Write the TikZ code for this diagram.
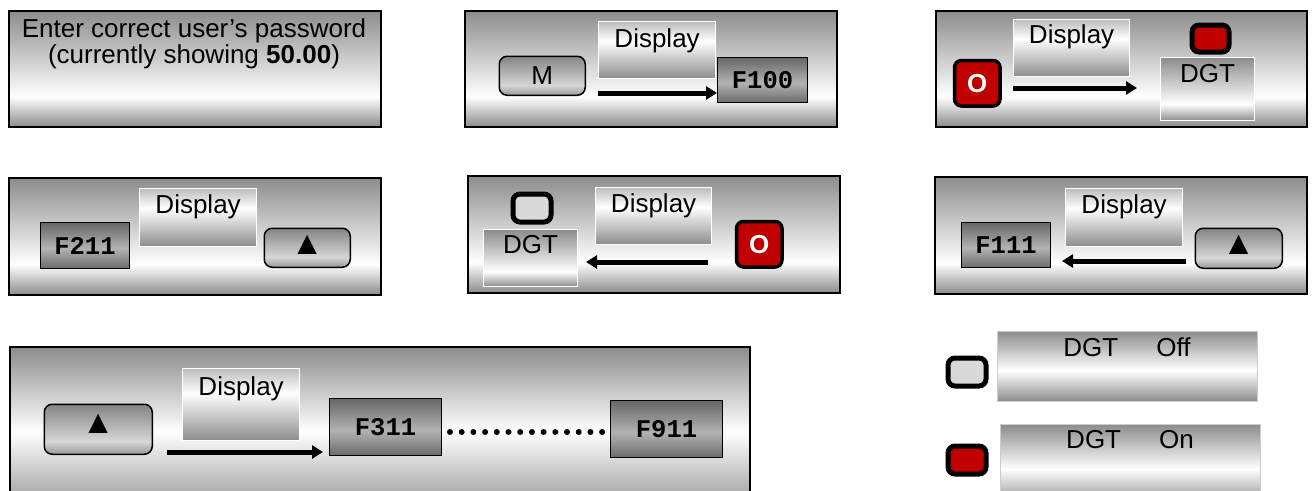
\documentclass[tikz,border=0pt]{standalone}
\usepackage{fontspec}
\setmainfont{Liberation Sans}
\newfontfamily\monof{Liberation Mono}
\usetikzlibrary{arrows.meta}
\definecolor{pg}{gray}{0.55}
\definecolor{dispTop}{gray}{0.74}
\definecolor{dispBot}{gray}{0.55}
\definecolor{btnTop}{gray}{0.52}
\definecolor{btnMid}{gray}{0.84}
\definecolor{btnBot}{gray}{0.6}
\definecolor{fTop}{gray}{0.40}
\definecolor{fMid}{gray}{0.70}
\definecolor{fBot}{gray}{0.42}
\definecolor{dred}{RGB}{192,0,0}
\definecolor{keygray}{RGB}{217,217,217}
\pgfdeclareverticalshading{panelshade}{100bp}{color(0bp)=(pg); color(25bp)=(pg); color(38bp)=(white); color(75bp)=(pg); color(100bp)=(pg)}
\pgfdeclareverticalshading{gshade}{100bp}{color(0bp)=(pg); color(25bp)=(pg); color(50bp)=(white); color(75bp)=(pg); color(100bp)=(pg)}
\pgfdeclareverticalshading{legshade}{100bp}{color(0bp)=(pg); color(25bp)=(pg); color(47bp)=(white); color(75bp)=(pg); color(100bp)=(pg)}
\pgfdeclareverticalshading{dispshade}{100bp}{color(0bp)=(dispBot); color(25bp)=(dispBot); color(58bp)=(white); color(75bp)=(dispTop); color(100bp)=(dispTop)}
\pgfdeclareverticalshading{btnshade}{100bp}{color(0bp)=(btnBot); color(25bp)=(btnBot); color(38bp)=(btnMid); color(75bp)=(btnTop); color(100bp)=(btnTop)}
\pgfdeclareverticalshading{fshade}{100bp}{color(0bp)=(fBot); color(25bp)=(fBot); color(47bp)=(fMid); color(75bp)=(fTop); color(100bp)=(fTop)}
\begin{document}
\begin{tikzpicture}[x=1pt,y=-1pt,
  every node/.style={font=\fontsize{26}{25.5}\selectfont, inner sep=0pt},
  panel/.style={draw=black, line width=1.5pt, shading=panelshade, anchor=north west},
  disp/.style={draw=white, line width=1.2pt, shading=dispshade, anchor=north west},
  dgtbox/.style={draw=white, line width=1.2pt, shading=panelshade, anchor=north west},
  legbar/.style={draw=gray!40, line width=0.5pt, shading=legshade, anchor=north west},
  fbox/.style={draw=black, line width=1pt, shading=fshade, anchor=north west, font=\monof\bfseries\fontsize{25.5}{25.5}\selectfont},
  btn/.style={draw=black, line width=1.5pt, rounded corners=8pt, shading=btnshade, anchor=north west},
  obtn/.style={draw=black, line width=3.5pt, rounded corners=7pt, fill=dred, text=white, anchor=north west, font=\bfseries\fontsize{26}{26}\selectfont},
  keybox/.style={draw=black, line width=5pt, rounded corners=7pt, anchor=north west},
  tri/.style={font=\fontsize{33}{33}\selectfont},
  arr/.style={line width=5pt, -{Triangle[length=11pt,width=13pt]}},
  dotline/.style={line width=6pt, line cap=round, dash pattern=on 0pt off 11.7pt}
]
\useasboundingbox (0,0) rectangle (1313,490);

% Panel A
\node[panel, minimum width=372pt, minimum height=116pt] (pA) at (8,10) {};
\node[align=center] (tA) at (194,44) {Enter correct user’s password\\(currently showing \textbf{50.00})};

% Panel B
\node[panel, minimum width=372pt, minimum height=116pt] (pB) at (464,10) {};
\node[btn, minimum width=86pt, minimum height=39pt] (mB) at (498.5,55.5) {M};
\node[disp, minimum width=117pt, minimum height=57pt] (dB) at (598,21) {};
\node (tB) at ([yshift=-20pt]dB.north) {Display};
\node[fbox, minimum width=90pt, minimum height=45pt] (fB) at (717,57) {F100\hspace{18pt}};
\coordinate (aB1) at (598,93);
\draw[arr] (aB1) -- (aB1 -| fB.west);

% Panel C
\node[panel, minimum width=371pt, minimum height=116pt] (pC) at (935,10) {};
\node[obtn, minimum width=45.5pt, minimum height=45.5pt] (oC) at (952.75,58.75) {O};
\node[disp, minimum width=116pt, minimum height=57pt] (dC) at (1013,19) {};
\node (tC) at ([yshift=-18pt]dC.north) {Display};
\coordinate (aC1) at (1013,88);
\coordinate (aC2) at (1137,88);
\draw[arr] (aC1) -- (aC2);
\node[keybox, fill=dred, minimum width=37pt, minimum height=27pt] (kC) at (1189.5,22.5) {};
\node[dgtbox, minimum width=94pt, minimum height=63pt] (gC) at (1160,57) {};
\node (tgC) at ([yshift=-17pt]gC.north) {DGT};

% Panel D
\node[panel, minimum width=372pt, minimum height=117pt] (pD) at (8,177) {};
\node[fbox, minimum width=89pt, minimum height=46pt] (fD) at (40,222) {F211};
\node[disp, minimum width=117pt, minimum height=58pt] (dD) at (139,188) {};
\node (tD) at ([yshift=-19pt]dD.north) {Display};
\node[btn, minimum width=86pt, minimum height=39pt] (uD) at (263.5,227.5) {};
\node[tri] (uDt) at ([yshift=3pt]uD.center) {▲};

% Panel E
\node[panel, minimum width=372pt, minimum height=117pt] (pE) at (467,175) {};
\node[keybox, fill=keygray, minimum width=38pt, minimum height=28pt] (kE) at (510.5,191.5) {};
\node[dgtbox, minimum width=94pt, minimum height=57pt] (gE) at (483,229) {};
\node (tgE) at ([yshift=-16pt]gE.north) {DGT};
\node[disp, minimum width=116pt, minimum height=57pt] (dE) at (595,187) {};
\node (tE) at ([yshift=-19pt]dE.north) {Display};
\node[obtn, minimum width=45.5pt, minimum height=45.5pt] (oE) at (734.75,219.75) {O};
\coordinate (aE1) at (708,262);
\coordinate (aE2) at (586,262);
\draw[arr] (aE1) -- (aE2);

% Panel F
\node[panel, minimum width=372pt, minimum height=117pt] (pF) at (934,176) {};
\node[fbox, minimum width=89pt, minimum height=45pt] (fF) at (961,222) {F111\hspace{14pt}};
\node[disp, minimum width=117pt, minimum height=58pt] (dF) at (1065,188) {};
\node (tF) at ([yshift=-19pt]dF.north) {Display};
\node[btn, minimum width=87pt, minimum height=40pt] (uF) at (1194.5,227.5) {};
\node[tri] (uFt) at ([yshift=3pt]uF.center) {▲};
\coordinate (aF1) at (1186,261);
\coordinate (aF2) at (1062,261);
\draw[arr] (aF1) -- (aF2);

% Panel G
\node[panel, shading=gshade, minimum width=740pt, minimum height=170pt] (pG) at (9,346) {};
\node[btn, minimum width=108pt, minimum height=50pt] (uG) at (43.5,403.5) {};
\node[tri] (uGt) at ([yshift=5pt]uG.center) {▲};
\node[disp, minimum width=117pt, minimum height=72pt] (dG) at (182,368) {};
\node (tG) at ([yshift=-21pt]dG.north) {Display};
\node[fbox, minimum width=112pt, minimum height=57pt] (fG1) at (329,398) {F311\hspace{16pt}};
\node[fbox, minimum width=112pt, minimum height=57pt] (fG2) at (610,400) {F911};
\coordinate (aG1) at (167,452);
\coordinate (aG2) at (323,452);
\draw[arr] (aG1) -- (aG2);
\coordinate (dG1) at (450,432);
\coordinate (dG2) at (603,432);
\draw[dotline] (dG1) -- (dG2);

% Legend
\node[keybox, fill=keygray, minimum width=38pt, minimum height=28pt] (kOff) at (945.5,355.5) {};
\node[keybox, fill=dred, minimum width=38pt, minimum height=28pt] (kOn) at (945.5,443.5) {};
\node[legbar, minimum width=260pt, minimum height=70pt] (bOff) at (997,331) {};
\node (tOff) at (1127,347) {DGT\hspace{38pt}Off};
\node[legbar, minimum width=260pt, minimum height=80pt] (bOn) at (1000,424) {};
\node (tOn) at (1130,440) {DGT\hspace{38pt}On};
\end{tikzpicture}
\end{document}
